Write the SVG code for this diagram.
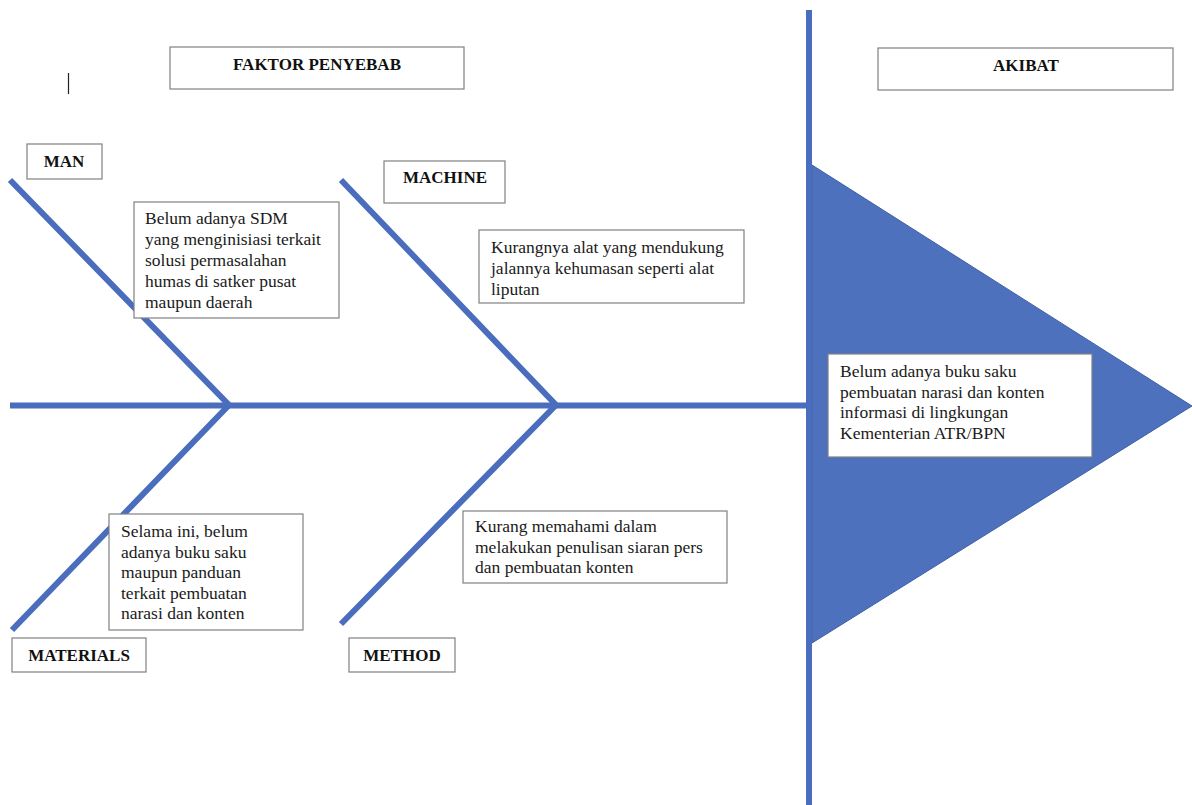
<svg xmlns="http://www.w3.org/2000/svg" width="1192" height="805" viewBox="0 0 1192 805">
<style>
.bone{stroke:#4A6DBD;stroke-width:6;fill:none;stroke-linecap:butt}
.box{fill:#fff;stroke:#808080;stroke-width:1.2}
.lbl{font-family:"Liberation Serif","Times New Roman",serif;font-weight:bold;font-size:17px;fill:#111;text-anchor:middle}
.txt{font-family:"Liberation Serif","Times New Roman",serif;font-size:17.5px;fill:#1a1a1a}
</style>
<rect width="1192" height="805" fill="#fff"/>
<g id="connectors">
<polygon points="812,165 1192,406 812,643" fill="#4E71BE" stroke="#3E5FA5" stroke-width="1"/>
<line class="bone" x1="809" y1="10" x2="809" y2="805"/>
<line class="bone" x1="10" y1="405.5" x2="806" y2="405.5"/>
<polyline class="bone" points="10,180 229,405 12,630"/>
<polyline class="bone" points="341,180 556,405 341,624"/>
</g>
<line x1="68.5" y1="73" x2="68.5" y2="94" stroke="#222" stroke-width="1.2"/>
<g id="faktor">
<rect class="box" x="170" y="47" width="294" height="42"/>
<text class="lbl" x="317" y="70">FAKTOR PENYEBAB</text>
</g>
<g id="akibat">
<rect class="box" x="878" y="48" width="295" height="42"/>
<text class="lbl" x="1026" y="71">AKIBAT</text>
</g>
<g id="man">
<rect class="box" x="27" y="144" width="75" height="35"/>
<text class="lbl" x="64" y="167">MAN</text>
</g>
<g id="machine">
<rect class="box" x="384" y="161" width="121" height="42"/>
<text class="lbl" x="445" y="183">MACHINE</text>
</g>
<g id="materials">
<rect class="box" x="12" y="638" width="134" height="34"/>
<text class="lbl" x="79" y="661">MATERIALS</text>
</g>
<g id="method">
<rect class="box" x="349" y="638" width="106" height="34"/>
<text class="lbl" x="402" y="661">METHOD</text>
</g>
<g id="man-desc">
<rect class="box" x="134" y="202" width="205" height="116"/>
<text class="txt" x="145" y="224">Belum adanya SDM</text>
<text class="txt" x="145" y="245">yang menginisiasi terkait</text>
<text class="txt" x="145" y="266">solusi permasalahan</text>
<text class="txt" x="145" y="287">humas di satker pusat</text>
<text class="txt" x="145" y="308">maupun daerah</text>
</g>
<g id="machine-desc">
<rect class="box" x="479" y="230" width="265" height="73"/>
<text class="txt" x="491" y="253">Kurangnya alat yang mendukung</text>
<text class="txt" x="491" y="274">jalannya kehumasan seperti alat</text>
<text class="txt" x="491" y="295">liputan</text>
</g>
<g id="materials-desc">
<rect class="box" x="109" y="514" width="194" height="116"/>
<text class="txt" x="121" y="537">Selama ini, belum</text>
<text class="txt" x="121" y="557.5">adanya buku saku</text>
<text class="txt" x="121" y="578">maupun panduan</text>
<text class="txt" x="121" y="598.5">terkait pembuatan</text>
<text class="txt" x="121" y="619">narasi dan konten</text>
</g>
<g id="method-desc">
<rect class="box" x="463" y="511" width="264" height="72"/>
<text class="txt" x="475" y="532">Kurang memahami dalam</text>
<text class="txt" x="475" y="552.5">melakukan penulisan siaran pers</text>
<text class="txt" x="475" y="573">dan pembuatan konten</text>
</g>
<g id="akibat-desc">
<rect class="box" x="828" y="354" width="264" height="103"/>
<text class="txt" x="840" y="377">Belum adanya buku saku</text>
<text class="txt" x="840" y="397.5">pembuatan narasi dan konten</text>
<text class="txt" x="840" y="418">informasi di lingkungan</text>
<text class="txt" x="840" y="438.5">Kementerian ATR/BPN</text>
</g>
</svg>
